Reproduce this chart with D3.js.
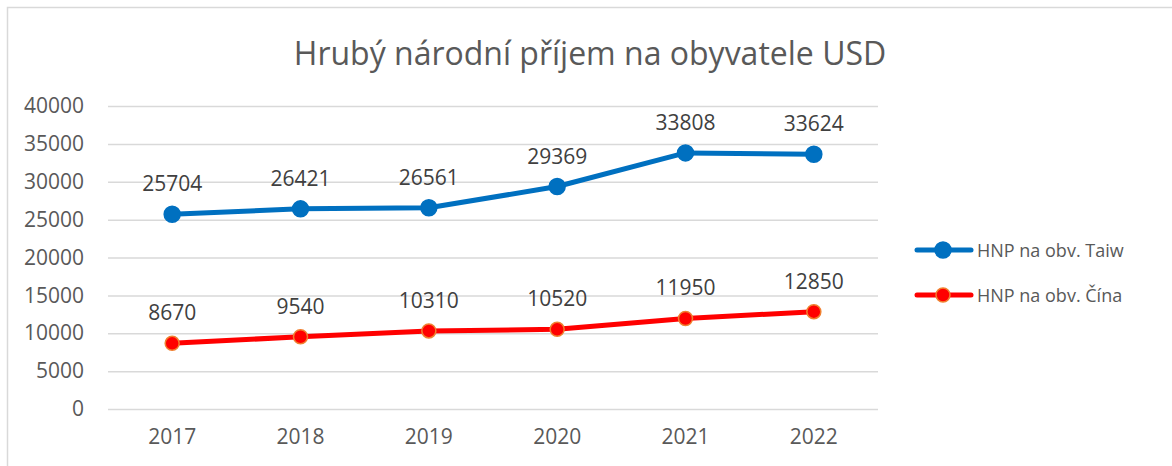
<!DOCTYPE html>
<html><head><meta charset="utf-8">
<script src="https://cdn.jsdelivr.net/npm/d3@7"></script>
<style>body{margin:0;background:#fff}svg{display:block}text{font-family:"Open Sans",sans-serif}</style>
</head><body>
<svg id="c" width="1172" height="466"></svg>
<script>
const years = ["2017","2018","2019","2020","2021","2022"];
const taiwan = [25704,26421,26561,29369,33808,33624];
const china = [8670,9540,10310,10520,11950,12850];
const yTicks = [0,5000,10000,15000,20000,25000,30000,35000,40000];
const seriesNames = ["HNP na obv. Taiw","HNP na obv. Čína"];
const titleText = "Hrubý národní příjem na obyvatele USD";

const svg = d3.select("#c");
const W=1172,H=466;
svg.append("rect").attr("x",7.5).attr("y",7.5).attr("width",W).attr("height",H).attr("fill","#fff").attr("stroke","#d9d9d9").attr("stroke-width",1.5);

const m={l:108,r:878,t:106,b:409};
const x=d3.scaleBand().domain(years).range([m.l,m.r]);
const y=d3.scaleLinear().domain([0,40000]).range([m.b,m.t]);

svg.append("text").attr("x",590).attr("y",65).attr("text-anchor","middle").attr("font-size",32).attr("fill","#595959").text(titleText);

const ya=svg.append("g").attr("transform",`translate(${m.l},0)`).call(d3.axisLeft(y).tickValues(yTicks).tickSize(-(m.r-m.l)).tickPadding(24).tickFormat(d3.format("d")));
ya.select(".domain").remove();
ya.selectAll(".tick line").attr("stroke","#d9d9d9").attr("stroke-width",1.5);
ya.selectAll(".tick text").attr("font-size",21).attr("fill","#595959").attr("font-family","Open Sans");

const xa=svg.append("g").attr("transform",`translate(0,${m.b})`).call(d3.axisBottom(x).tickSize(0).tickPadding(20));
xa.select(".domain").remove();
xa.selectAll(".tick text").attr("font-size",21).attr("fill","#595959").attr("font-family","Open Sans");

const cx=d=>x(d)+x.bandwidth()/2;
const line=d3.line().x((d,i)=>cx(years[i])).y(d=>y(d));
const series=[{v:taiwan,c:"#0070c0",mf:"#0070c0",ms:"#0070c0",r:8},{v:china,c:"#ff0000",mf:"#ff0000",ms:"#f08030",r:7}];
series.forEach(s=>{
  svg.append("path").datum(s.v).attr("d",line).attr("fill","none").attr("stroke",s.c).attr("stroke-width",5).attr("stroke-linecap","round").attr("stroke-linejoin","round");
  svg.selectAll(null).data(s.v).enter().append("circle").attr("cx",(d,i)=>cx(years[i])).attr("cy",d=>y(d)).attr("r",s.r).attr("fill",s.mf).attr("stroke",s.ms).attr("stroke-width",1.5);
  svg.selectAll(null).data(s.v).enter().append("text").attr("x",(d,i)=>cx(years[i])).attr("y",d=>y(d)-23).attr("text-anchor","middle").attr("font-size",21).attr("fill","#404040").text(d=>d);
});

const lg=[250,295];
series.forEach((s,i)=>{
  const g=svg.append("g").attr("transform",`translate(0,${lg[i]})`);
  g.append("line").attr("x1",917).attr("x2",971).attr("stroke",s.c).attr("stroke-width",5).attr("stroke-linecap","round");
  g.append("circle").attr("cx",943).attr("cy",0).attr("r",s.r).attr("fill",s.mf).attr("stroke",s.ms).attr("stroke-width",1.5);
  g.append("text").attr("x",977).attr("y",7).attr("font-size",18).attr("fill","#595959").text(seriesNames[i]);
});
</script>
</body></html>
